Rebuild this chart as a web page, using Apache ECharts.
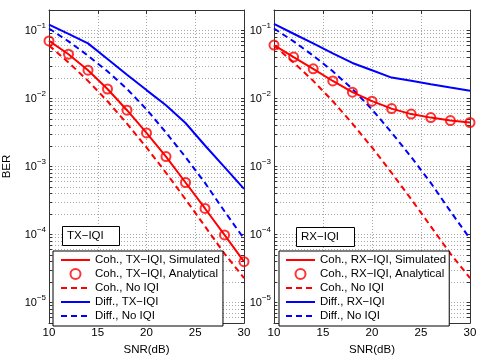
<!DOCTYPE html>
<html><head><meta charset="utf-8">
<script src="https://cdn.jsdelivr.net/npm/echarts@6/dist/echarts.min.js"></script>
<style>html,body{margin:0;padding:0;background:#fff}#c{width:485px;height:361px}</style>
</head><body><div id="c"></div>
<script>
// ---- data (BER values) ----
const snr = [10, 12, 14, 16, 18, 20, 22, 24, 26, 28, 30];
const xTicks = [10, 15, 20, 25, 30];
const yDecades = [-5, -4, -3, -2, -1];
// Left panel: TX-IQI
const cohTxSimulated  = [0.0702, 0.0448, 0.0261, 0.0138, 0.00673, 0.00312, 0.00140, 5.83e-4, 2.42e-4, 9.9e-5, 4.0e-5];
const cohTxAnalytical = [0.0702, 0.0448, 0.0261, 0.0138, 0.00673, 0.00312, 0.00140, 5.83e-4, 2.42e-4, 9.9e-5, 4.0e-5];
const cohNoIQI        = [0.0603, 0.0339, 0.0182, 0.00912, 0.00427, 0.00191, 8.1e-4, 3.31e-4, 1.32e-4, 5.25e-5, 2.3e-5];
const diffTx          = [0.122, 0.0891, 0.0646, 0.0380, 0.0224, 0.0133, 0.00794, 0.00437, 0.00204, 9.8e-4, 4.7e-4];
const diffNoIQI       = [0.107, 0.0692, 0.0427, 0.0251, 0.0138, 0.00692, 0.00316, 0.00138, 5.75e-4, 2.2e-4, 8.7e-5];
// Right panel: RX-IQI
const cohRxSimulated  = [0.061, 0.0406, 0.0273, 0.0181, 0.0124, 0.00915, 0.00711, 0.0059, 0.00524, 0.00474, 0.00444];
const cohRxAnalytical = [0.061, 0.0406, 0.0273, 0.0181, 0.0124, 0.00915, 0.00711, 0.0059, 0.00524, 0.00474, 0.00444];
const diffRx          = [0.125, 0.0895, 0.0646, 0.0462, 0.0333, 0.0260, 0.0203, 0.0182, 0.0162, 0.0145, 0.0130];
const yMinBER = 5e-6, yMaxBER = 0.2;

const FONT = '"Liberation Sans", Arial, sans-serif';
const RED = '#ff0000', BLUE = '#0000ff', FRAME = '#333';
const yMin = Math.log10(yMinBER), yMax = Math.log10(yMaxBER);
const tickVals = [];
for (let k = -6; k <= -1; k++) for (let m = 1; m <= 9; m++) {
  const v = k + Math.log10(m);
  if (v >= yMin - 1e-9 && v <= yMax + 1e-9) tickVals.push(v);
}
const gridLine = {show: true, lineStyle: {type: [1, 2], color: '#a8a8a8', width: 1}};

function xAx(gi, pos, main) {
  return {
    type: 'value', gridIndex: gi, position: pos, min: 10, max: 30, interval: 5,
    axisLine: {show: true, onZero: false, lineStyle: {color: FRAME, width: 1}},
    axisTick: {show: true, inside: true, length: 4, lineStyle: {color: FRAME}},
    axisLabel: main ? {show: true, customValues: xTicks, fontSize: 11.5, color: '#000', fontFamily: FONT, margin: 4} : {show: false},
    splitLine: main ? gridLine : {show: false},
    name: main ? 'SNR(dB)' : '', nameLocation: 'middle', nameGap: 19,
    nameTextStyle: {fontSize: 11.5, color: '#000', fontFamily: FONT}
  };
}
function yAx(gi, pos, main, name) {
  return {
    type: 'value', gridIndex: gi, position: pos, min: yMin, max: yMax,
    axisLine: {show: true, onZero: false, lineStyle: {color: FRAME, width: 1}},
    axisTick: {show: true, inside: true, length: 3, customValues: tickVals, lineStyle: {color: FRAME}},
    axisLabel: main ? {
      show: true, customValues: yDecades, margin: 3, color: '#000',
      formatter: v => '{b|10}{s|\u2212' + Math.round(-v) + '}',
      rich: {
        b: {fontSize: 11, fontFamily: FONT, color: '#000', lineHeight: 18, verticalAlign: 'middle'},
        s: {fontSize: 8, fontFamily: FONT, color: '#000', lineHeight: 10, verticalAlign: 'top'}
      }
    } : {show: false},
    splitLine: main ? gridLine : {show: false},
    name: name || '', nameLocation: 'middle', nameGap: 36, nameRotate: 90,
    nameTextStyle: {fontSize: 11.5, color: '#000', fontFamily: FONT}
  };
}
function pts(arr) { return snr.map((x, i) => [x, Math.log10(arr[i])]); }
function lineS(name, arr, color, dashed, xi, yi, z) {
  return {type: 'line', name, xAxisIndex: xi, yAxisIndex: yi, data: pts(arr), symbol: 'none',
    lineStyle: {color, width: 2, type: dashed ? [6, 4] : 'solid'}, itemStyle: {color}, z, animation: false};
}
function markS(name, arr, color, xi, yi, z) {
  return {type: 'scatter', name, xAxisIndex: xi, yAxisIndex: yi, data: pts(arr), symbol: 'circle', symbolSize: 9,
    itemStyle: {color: 'rgba(255,0,0,0)', borderColor: color, borderWidth: 2}, z, animation: false};
}
const noDot = {color: 'rgba(0,0,0,0)', borderColor: 'rgba(0,0,0,0)', borderWidth: 0, opacity: 0};
function legendCfg(left, names, markerName, padLeft) {
  return {
    data: names.map(n => n === markerName ? {name: n} : {name: n, itemStyle: noDot}),
    left, top: 251, orient: 'vertical', itemWidth: 29, itemHeight: 10, itemGap: 0,
    padding: [2, 3, 3, padLeft], borderColor: '#000', borderWidth: 1, backgroundColor: '#fff', borderRadius: 0,
    selectedMode: false, textStyle: {fontSize: 11.5, lineHeight: 14, color: '#000', fontFamily: FONT}
  };
}
function boxTitle(text, left, top) {
  return {text, left, top, padding: [4, 16, 4, 5], borderColor: '#000', borderWidth: 1, backgroundColor: '#fff',
    textStyle: {fontSize: 11.5, fontWeight: 'normal', color: '#000', fontFamily: FONT, lineHeight: 12}};
}

const TXS = 'Coh., TX\u2212IQI, Simulated', TXA = 'Coh., TX\u2212IQI, Analytical', CN = 'Coh., No IQI',
      DTX = 'Diff., TX\u2212IQI', DN = 'Diff., No IQI',
      RXS = 'Coh., RX\u2212IQI, Simulated', RXA = 'Coh., RX\u2212IQI, Analytical', DRX = 'Diff., RX\u2212IQI';

const option = {
  backgroundColor: '#fff',
  animation: false,
  grid: [
    {left: 49, top: 10, width: 195, height: 319},
    {left: 274, top: 10, width: 196, height: 319}
  ],
  xAxis: [xAx(0, 'bottom', true), xAx(0, 'top', false), xAx(1, 'bottom', true), xAx(1, 'top', false)],
  yAxis: [yAx(0, 'left', true, 'BER'), yAx(0, 'right', false), yAx(1, 'left', true), yAx(1, 'right', false)],
  title: [boxTitle('TX\u2212IQI', 62, 226), boxTitle('RX\u2212IQI', 296, 227)],
  legend: [legendCfg(53, [TXS, TXA, CN, DTX, DN], TXA, 7), legendCfg(279, [RXS, RXA, CN, DRX, DN], RXA, 6)],
  series: [
    lineS(CN, cohNoIQI, RED, true, 0, 0, 2),
    lineS(DTX, diffTx, BLUE, false, 0, 0, 2),
    lineS(DN, diffNoIQI, BLUE, true, 0, 0, 2),
    lineS(TXS, cohTxSimulated, RED, false, 0, 0, 3),
    markS(TXA, cohTxAnalytical, RED, 0, 0, 3),
    lineS(CN, cohNoIQI, RED, true, 2, 2, 2),
    lineS(DRX, diffRx, BLUE, false, 2, 2, 2),
    lineS(DN, diffNoIQI, BLUE, true, 2, 2, 2),
    lineS(RXS, cohRxSimulated, RED, false, 2, 2, 3),
    markS(RXA, cohRxAnalytical, RED, 2, 2, 3)
  ]
};
const chart = echarts.init(document.getElementById('c'), null, {renderer: 'canvas'});
chart.setOption(option);
</script></body></html>
